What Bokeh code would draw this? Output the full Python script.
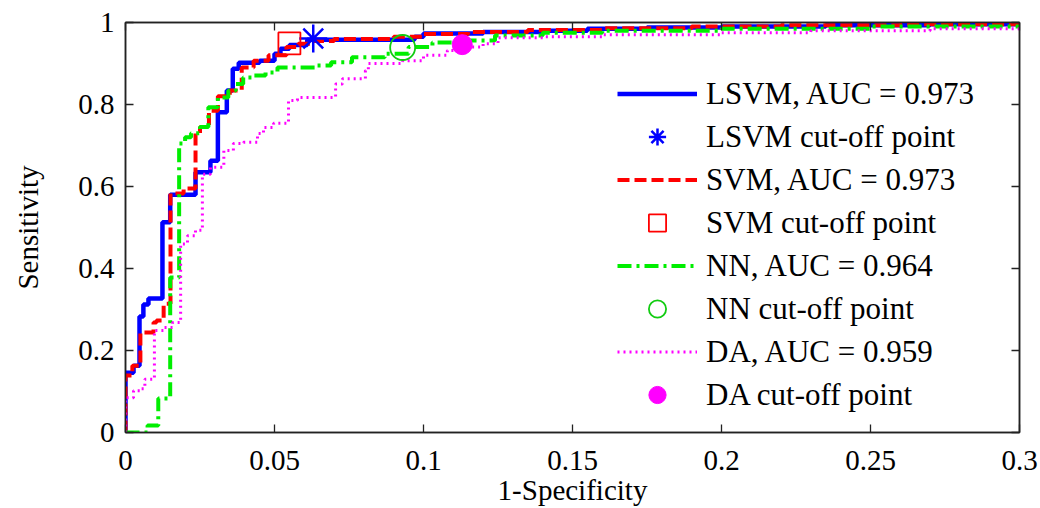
from bokeh.plotting import figure
from bokeh.models import FixedTicker, LinearAxis, Legend, LegendItem, Range1d
from bokeh.embed import file_html
from bokeh.resources import INLINE

# Axis ticks and their labels
x_ticks = [0, 0.05, 0.1, 0.15, 0.2, 0.25, 0.3]
x_tick_labels = ["0", "0.05", "0.1", "0.15", "0.2", "0.25", "0.3"]
y_ticks = [0, 0.2, 0.4, 0.6, 0.8, 1.0]
y_tick_labels = ["0", "0.2", "0.4", "0.6", "0.8", "1"]

# ROC staircases: each (fpr, tpr) pair is where the curve rises to a new tpr level
lsvm_fpr = [0, 0, 0.0027, 0.0047, 0.006, 0.0077, 0.0124, 0.015, 0.0235, 0.0285, 0.031,
            0.034, 0.036, 0.038, 0.045, 0.050, 0.052, 0.055, 0.061, 0.097, 0.100, 0.12,
            0.14, 0.155, 0.175, 0.2, 0.235, 0.27, 0.3]
lsvm_tpr = [0, 0.146, 0.163, 0.283, 0.312, 0.327, 0.513, 0.58, 0.635, 0.663, 0.781,
            0.834, 0.887, 0.902, 0.907, 0.924, 0.936, 0.945, 0.958, 0.965, 0.973, 0.977,
            0.98, 0.985, 0.988, 0.99, 0.993, 0.996, 1.0]

svm_fpr = [0, 0, 0.0023, 0.005, 0.0094, 0.0104, 0.0128, 0.0151, 0.0195, 0.0235, 0.025,
           0.028, 0.031, 0.035, 0.039, 0.043, 0.048, 0.054, 0.058, 0.062, 0.07, 0.09,
           0.1, 0.115, 0.135, 0.16, 0.19, 0.22, 0.26, 0.3]
svm_tpr = [0, 0.139, 0.163, 0.244, 0.268, 0.273, 0.314, 0.583, 0.595, 0.73, 0.745,
           0.785, 0.82, 0.834, 0.89, 0.907, 0.92, 0.94, 0.948, 0.955, 0.96, 0.965,
           0.972, 0.977, 0.982, 0.986, 0.99, 0.993, 0.996, 0.998]

nn_fpr = [0, 0.0074, 0.011, 0.015, 0.018, 0.020, 0.022, 0.025, 0.0278, 0.031, 0.0345,
          0.037, 0.0395, 0.043, 0.047, 0.051, 0.064, 0.069, 0.076, 0.087, 0.095, 0.103,
          0.115, 0.124, 0.14, 0.16, 0.2, 0.25, 0.3]
nn_tpr = [0, 0.017, 0.083, 0.378, 0.705, 0.72, 0.73, 0.745, 0.793, 0.817, 0.834,
          0.85, 0.866, 0.871, 0.878, 0.89, 0.895, 0.903, 0.915, 0.924, 0.94, 0.951,
          0.956, 0.968, 0.975, 0.98, 0.985, 0.99, 0.99]

da_fpr = [0, 0, 0.0027, 0.005, 0.0065, 0.0097, 0.0128, 0.0158, 0.0185, 0.0208, 0.0235,
          0.0258, 0.0285, 0.033, 0.0362, 0.0396, 0.0443, 0.0463, 0.0497, 0.0547, 0.0577,
          0.0705, 0.0728, 0.0805, 0.0815, 0.093, 0.1, 0.108, 0.115, 0.12, 0.125, 0.14,
          0.16, 0.2, 0.23, 0.27, 0.3]
da_tpr = [0, 0.085, 0.102, 0.107, 0.13, 0.249, 0.256, 0.268, 0.46, 0.48, 0.493,
          0.63, 0.647, 0.688, 0.705, 0.708, 0.729, 0.744, 0.754, 0.81, 0.817,
          0.85, 0.863, 0.883, 0.9, 0.907, 0.92, 0.932, 0.94, 0.948, 0.963, 0.965,
          0.97, 0.975, 0.98, 0.985, 0.985]

# Optimal cut-off points (fpr, tpr)
lsvm_cut_fpr, lsvm_cut_tpr = [0.063], [0.961]
svm_cut_fpr, svm_cut_tpr = [0.055], [0.949]
nn_cut_fpr, nn_cut_tpr = [0.093], [0.939]
da_cut_fpr, da_cut_tpr = [0.113], [0.946]

labels = ["LSVM, AUC = 0.973", "LSVM cut-off point",
          "SVM, AUC = 0.973", "SVM cut-off point",
          "NN, AUC = 0.964", "NN cut-off point",
          "DA, AUC = 0.959", "DA cut-off point"]

FONT = "'Liberation Serif', 'Times New Roman', Times, serif"
INK = "#222222"

p = figure(width=1040, height=508, x_range=Range1d(0, 0.3), y_range=Range1d(0, 1),
           output_backend="svg", toolbar_location=None,
           min_border_left=125, min_border_right=21, min_border_top=22, min_border_bottom=76)
p.grid.visible = False
p.outline_line_color = INK
p.outline_line_width = 1.5
p.background_fill_color = "white"
p.border_fill_color = "white"

xa = p.below[0]
xa.ticker = FixedTicker(ticks=x_ticks)
xa.major_label_overrides = {t: s for t, s in zip(x_ticks, x_tick_labels)}
ya = p.left[0]
ya.ticker = FixedTicker(ticks=y_ticks)
ya.major_label_overrides = {t: s for t, s in zip(y_ticks, y_tick_labels)}
for ax in (xa, ya):
    ax.major_tick_in = 8
    ax.major_tick_out = 0
    ax.minor_tick_line_color = None
    ax.axis_line_color = INK
    ax.axis_line_width = 1.5
    ax.major_tick_line_color = INK
    ax.major_tick_line_width = 1.3
    ax.major_label_text_font = FONT
    ax.major_label_text_font_size = "29px"
    ax.major_label_text_color = "black"
    ax.axis_label_text_font = FONT
    ax.axis_label_text_font_size = "29px"
    ax.axis_label_text_font_style = "normal"
    ax.axis_label_text_color = "black"
xa.axis_label = "1-Specificity"
ya.axis_label = "Sensitivity"
xa.major_label_standoff = 18
ya.major_label_standoff = 11
xa.axis_label_standoff = 1
ya.axis_label_standoff = 31

# Box-style ticks on the top and right edges, without labels
def edge_axis(ticks):
    return LinearAxis(ticker=FixedTicker(ticks=ticks),
                      major_label_overrides={t: "" for t in ticks},
                      major_label_standoff=0, major_tick_in=8, major_tick_out=0,
                      minor_tick_line_color=None, axis_line_color=INK, axis_line_width=1.5,
                      major_tick_line_color=INK, major_tick_line_width=1.3)

p.add_layout(edge_axis(x_ticks), "above")
p.add_layout(edge_axis(y_ticks), "right")

r_lsvm = p.step(lsvm_fpr, lsvm_tpr, mode="after", line_color="#0000ff", line_width=4.5)
r_svm = p.step(svm_fpr, svm_tpr, mode="after", line_color="#ff0000", line_width=4,
               line_dash="12 5")
r_nn = p.step(nn_fpr, nn_tpr, mode="after", line_color="#00ee00", line_width=4,
              line_dash="14 5 3 5")
r_da = p.step(da_fpr, da_tpr, mode="after", line_color="#ff00ff", line_width=3,
              line_dash="2 4")

m_lsvm = p.scatter(lsvm_cut_fpr, lsvm_cut_tpr, marker="asterisk", size=28,
                   line_color="#0000ff", line_width=2.5)
m_svm = p.scatter(svm_cut_fpr, svm_cut_tpr, marker="square", size=22,
                  line_color="#ff0000", fill_color=None, line_width=1.8)
m_nn = p.scatter(nn_cut_fpr, nn_cut_tpr, marker="circle", size=25,
                 line_color="#11cc11", fill_color=None, line_width=1.8)
m_da = p.scatter(da_cut_fpr, da_cut_tpr, marker="circle", size=20,
                 line_color="#ff00ff", fill_color="#ff00ff")

renderers = [r_lsvm, m_lsvm, r_svm, m_svm, r_nn, m_nn, r_da, m_da]
legend = Legend(items=[LegendItem(label=l, renderers=[r]) for l, r in zip(labels, renderers)],
                location=(492, 16), background_fill_color="white", background_fill_alpha=1,
                border_line_color=None, glyph_width=80, glyph_height=43, label_height=30,
                spacing=0, padding=5, margin=0, label_standoff=9,
                label_text_font=FONT, label_text_font_size="31px", label_text_color="black")
p.add_layout(legend)

open("out.html", "w").write(file_html(p, INLINE))
